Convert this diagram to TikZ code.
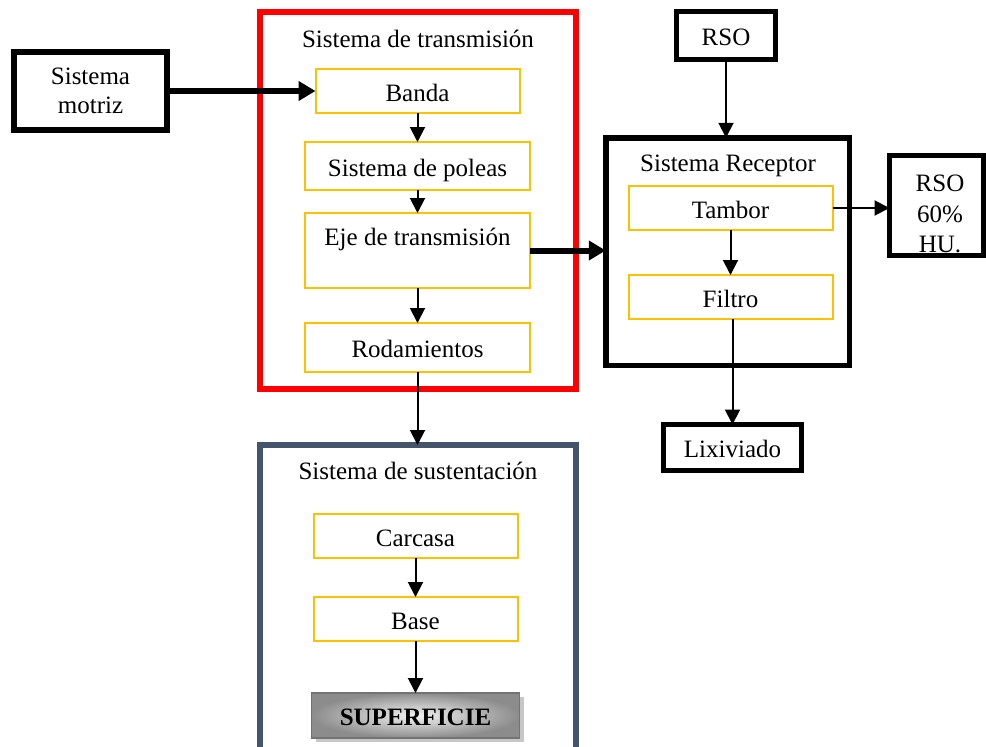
\documentclass[tikz,border=0pt]{standalone}
\usepackage{fontspec}
\setmainfont{Liberation Serif}
\usetikzlibrary{arrows.meta,shadows}
\definecolor{ygold}{HTML}{FFC000}
\definecolor{slatebd}{HTML}{44546A}
\begin{document}
\begin{tikzpicture}[x=1pt,y=-1pt,
  every node/.style={font=\fontsize{25}{29}\selectfont, inner sep=0pt, outer sep=0pt},
  one/.style={text height=20pt, text depth=0pt},
  ybox/.style={draw=ygold, line width=2pt, one},
  bbox/.style={draw=black, line width=5.5pt},
  thinarr/.style={line width=2pt, -{Triangle[length=15pt,width=15pt]}},
  thickarr/.style={line width=6pt, -{Triangle[length=17pt,width=19pt]}}]
\useasboundingbox (0,0) rectangle (986,747);
\clip (0,0) rectangle (986,747);

% containers
\node[draw=red, line width=5.5pt, minimum width=316pt, minimum height=377pt] (trans) at (418,200.5) {};
\node[one] (transt) at (418,37.5) {Sistema de transmisión};
\node[draw=slatebd, line width=5.5pt, minimum width=316pt, minimum height=360pt] (sust) at (418,625) {};
\node[one] (sustt) at (418,469) {Sistema de sustentación};
\node[bbox, minimum width=243.5pt, minimum height=227.5pt] (recep) at (727.5,251.5) {};
\node[one] (recept) at (728,161.5) {Sistema Receptor};

% outer boxes
\node[bbox, line width=6pt, minimum width=153pt, minimum height=78pt, align=center] (motriz) at (90.5,91) {Sistema\\motriz};
\node[bbox, minimum width=99pt, minimum height=48pt, one] (rso) at (726,35.5) {RSO};
\node[bbox, minimum width=94pt, minimum height=100pt] (rso60) at (936.5,205.5) {};
\node[align=center, font=\fontsize{25}{30.5}\selectfont] (rso60t) at (940,214) {RSO\\60\%\\HU.};
\node[bbox, minimum width=138pt, minimum height=46pt, one] (lix) at (732.5,447.5) {Lixiviado};

% transmission column
\node[ybox, minimum width=204pt, minimum height=44pt] (banda) at (417.5,91) {Banda};
\node[ybox, minimum width=225pt, minimum height=48pt] (poleas) at (417.5,166) {Sistema de poleas};
\node[draw=ygold, line width=2pt, minimum width=225pt, minimum height=75pt] (eje) at (417.5,250.5) {};
\node[one] (ejet) at (417.5,235.5) {Eje de transmisión};
\node[ybox, minimum width=225pt, minimum height=49pt] (rod) at (417.5,347.5) {Rodamientos};

% sustentation column
\node[ybox, minimum width=204pt, minimum height=44pt] (carcasa) at (415.5,536) {Carcasa};
\node[ybox, minimum width=204pt, minimum height=44pt] (base) at (415.5,619) {Base};
\node[draw=black!55, line width=1.5pt, minimum width=208pt, minimum height=45pt, one,
      shading=radial, inner color=black!5, outer color=black!45,
      drop shadow={shadow xshift=4pt, shadow yshift=-4pt, fill=black!22, opacity=1},
      font=\fontsize{25}{29}\selectfont\bfseries] (sup) at (415.5,715.5) {SUPERFICIE};

% receptor column
\node[ybox, minimum width=204pt, minimum height=44pt] (tambor) at (730.5,208) {Tambor};
\node[ybox, minimum width=204pt, minimum height=44pt] (filtro) at (730.5,297) {Filtro};

% connectors
\draw[thickarr] (motriz.east) -- (banda.west);
\draw[thinarr] (banda.south) -- (poleas.north);
\draw[thinarr] (poleas.south) -- (eje.north);
\draw[thinarr] (eje.south) -- (rod.north);
\draw[thinarr] (rod.south) -- (rod.south |- sust.north);
\draw[thickarr] (eje.east) -- (eje.east -| recep.west);
\draw[thinarr] (carcasa.south) -- (base.north);
\draw[thinarr] (base.south) -- (sup.north);
\draw[thinarr] (rso.south) -- (rso.south |- recep.north);
\draw[thinarr] (tambor.south) -- (filtro.north);
\draw[thinarr] (tambor.east) -- (tambor.east -| rso60.west);
\draw[thinarr] (filtro.south -| lix.north) -- (lix.north);
\end{tikzpicture}
\end{document}
